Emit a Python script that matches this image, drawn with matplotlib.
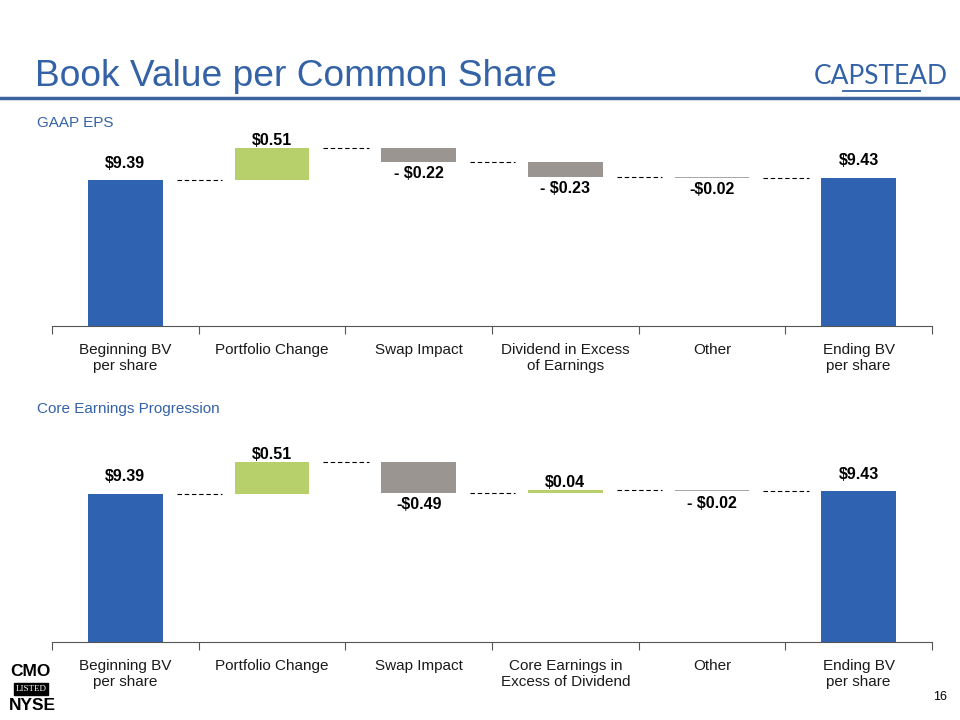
import matplotlib.pyplot as plt
import numpy as np

plt.rcParams['font.family'] = ['Liberation Sans', 'DejaVu Sans']

# data
cats_gaap = ['Beginning BV\nper share', 'Portfolio Change', 'Swap Impact',
             'Dividend in Excess\nof Earnings', 'Other', 'Ending BV\nper share']
vals_gaap = [9.39, 0.51, -0.22, -0.23, -0.02, 9.43]
labels_gaap = ['$9.39', '$0.51', '- $0.22', '- $0.23', '-$0.02', '$9.43']

cats_core = ['Beginning BV\nper share', 'Portfolio Change', 'Swap Impact',
             'Core Earnings in\nExcess of Dividend', 'Other', 'Ending BV\nper share']
vals_core = [9.39, 0.51, -0.49, 0.04, -0.02, 9.43]
labels_core = ['$9.39', '$0.51', '-$0.49', '$0.04', '- $0.02', '$9.43']

BLUE = '#2F62B1'
GREEN = '#B8D06C'
GRAY = '#9A9591'
LGRAY = '#A8A8A8'
TITLE_BLUE = '#3462A6'


def waterfall(ax, cats, vals, labels, ymin, ymax):
    n = len(vals)
    x = np.arange(n)
    w = 0.51
    level = 0.0
    ends = []
    for i, v in enumerate(vals):
        if i == 0 or i == n - 1:
            level = v
            ax.bar(i, v - ymin, w, bottom=ymin, color=BLUE, zorder=2)
            ax.annotate(labels[i], (i, v), xytext=(0, 7), textcoords='offset points',
                        ha='center', va='bottom', fontsize=11.5, fontweight='bold')
        else:
            start = level
            level = level + v
            color = GREEN if v > 0 else (LGRAY if i == n - 2 else GRAY)
            ax.bar(i, v, w, bottom=start, color=color, zorder=2)
            if v > 0:
                ax.annotate(labels[i], (i, level), xytext=(0, 0), textcoords='offset points',
                            ha='center', va='bottom', fontsize=11.5, fontweight='bold')
            else:
                ax.annotate(labels[i], (i, level), xytext=(0, -3), textcoords='offset points',
                            ha='center', va='top', fontsize=11.5, fontweight='bold')
        ends.append(level)
    # dashed connectors between bars
    for i in range(n - 1):
        ax.plot([i + 0.35, i + 0.66], [ends[i], ends[i]], color='black', lw=0.8,
                ls=(0, (4, 2.5)), zorder=1)
    ax.set_xlim(-0.5, n - 0.5)
    ax.set_ylim(ymin, ymax)
    ax.set_xticks(np.arange(n + 1) - 0.5)
    ax.set_xticklabels([])
    ax.set_xticks(x, minor=True)
    ax.set_xticklabels(cats, minor=True, fontsize=11, color='#1a1a1a', linespacing=1.2)
    ax.tick_params(axis='x', which='major', length=6, width=0.8, color='#555555')
    ax.tick_params(axis='x', which='minor', length=0, pad=12)
    ax.set_yticks([])
    for s in ['top', 'right', 'left']:
        ax.spines[s].set_visible(False)
    ax.spines['bottom'].set_color('#555555')
    ax.spines['bottom'].set_linewidth(0.8)


fig = plt.figure(figsize=(9.6, 7.2), dpi=100)

# header
fig.text(35 / 960, 1 - 77 / 720, 'Book Value per Common Share', fontsize=26.7,
         color=TITLE_BLUE, va='center', ha='left')
fig.add_artist(plt.Line2D([0, 1], [1 - 98 / 720, 1 - 98 / 720], color='#3A63A0', lw=2.5))
fig.text(948 / 960, 1 - 77 / 720, 'CAPSTEAD', fontsize=19, color=TITLE_BLUE,
         va='center', ha='right', family=['Lato', 'DejaVu Sans'])
fig.add_artist(plt.Line2D([843 / 960, 920 / 960], [1 - 91 / 720, 1 - 91 / 720],
                          color=TITLE_BLUE, lw=1.3))

fig.text(37 / 960, 1 - 123 / 720, 'GAAP EPS', fontsize=11, color=TITLE_BLUE, va='center')
fig.text(37 / 960, 1 - 409 / 720, 'Core Earnings Progression', fontsize=11,
         color=TITLE_BLUE, va='center')

ax1 = fig.add_axes([52 / 960, 1 - 326 / 720, 880 / 960, 186 / 720])
waterfall(ax1, cats_gaap, vals_gaap, labels_gaap, 7.08, 10.03)

ax2 = fig.add_axes([52 / 960, 1 - 642 / 720, 880 / 960, 192 / 720])
waterfall(ax2, cats_core, vals_core, labels_core, 7.0, 10.1)

# footer
fig.text(10 / 960, 1 - 672 / 720, 'CMO', fontsize=12.5, fontweight='bold', va='center',
         ha='left')
fig.text(31 / 960, 1 - 689 / 720, 'LISTED', fontsize=6.5, color='white', va='center',
         ha='center', family=['Liberation Serif'],
         bbox=dict(boxstyle='square,pad=0.2', fc='black', ec='black'))
fig.text(9 / 960, 1 - 705 / 720, 'NYSE', fontsize=12.5, fontweight='bold', va='center',
         ha='left')
fig.text(940 / 960, 1 - 697 / 720, '16', fontsize=9, va='center', ha='center')

fig.savefig('out.png', dpi=100)
